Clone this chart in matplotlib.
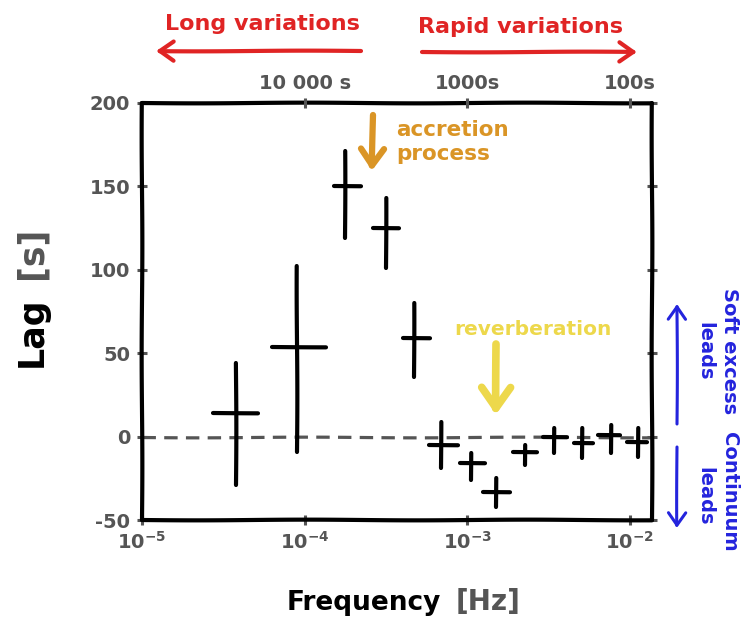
import numpy as np
import matplotlib.pyplot as plt
from matplotlib.patches import FancyArrowPatch

# lag-frequency spectrum
freq = [3.8e-5, 9.0e-5, 1.77e-4, 3.16e-4, 4.7e-4, 6.9e-4, 1.05e-3,
        1.5e-3, 2.26e-3, 3.4e-3, 5.1e-3, 7.6e-3, 1.12e-2]
freq_lo = [2.73e-5, 6.3e-5, 1.51e-4, 2.63e-4, 4.02e-4, 5.8e-4, 9.0e-4,
           1.25e-3, 1.9e-3, 2.92e-3, 4.52e-3, 6.35e-3, 9.6e-3]
freq_hi = [5.16e-5, 1.35e-4, 2.22e-4, 3.8e-4, 5.9e-4, 8.75e-4, 1.28e-3,
           1.83e-3, 2.68e-3, 4.09e-3, 5.92e-3, 8.67e-3, 1.27e-2]
lag = [14, 54, 150, 125, 59, -5, -16, -33, -9, 0, -4, 1, -3]
lag_lo = [-29, -9, 119, 101, 36, -19, -26, -42, -17, -10, -13, -10, -12]
lag_hi = [44, 102, 171, 143, 80, 9, -10, -25, -5, 5, 5, 7, 5]

x_ticks = [1e-5, 1e-4, 1e-3, 1e-2]
x_ticklabels = [r'$\mathbf{10^{-5}}$', r'$\mathbf{10^{-4}}$',
                r'$\mathbf{10^{-3}}$', r'$\mathbf{10^{-2}}$']
top_ticks = [1e-4, 1e-3, 1e-2]
top_ticklabels = ['10 000 s', '1000s', '100s']
y_ticks = [-50, 0, 50, 100, 150, 200]

grey = '#555555'
red = '#E02424'
orange = '#DA9526'
yellow = '#EDD84B'
blue = '#2424DD'

plt.rcParams['path.sketch'] = (0.35, 220, 1)
plt.rcParams['axes.unicode_minus'] = False
plt.rcParams['font.weight'] = 'bold'

W, H = 746, 629
fig = plt.figure(figsize=(W / 100, H / 100), dpi=100)
ax = fig.add_axes([142 / W, 1 - 520 / H, 510 / W, 417 / H])

def px(x, y):
    return (x / W, 1 - y / H)

freq = np.array(freq)
lag = np.array(lag)
xerr = [freq - np.array(freq_lo), np.array(freq_hi) - freq]
yerr = [lag - np.array(lag_lo), np.array(lag_hi) - lag]

ax.axhline(0, color=grey, lw=2.3, ls=(0, (4.2, 2.6)), zorder=1)
eb = ax.errorbar(freq, lag, xerr=xerr, yerr=yerr, fmt='none',
                 ecolor='black', elinewidth=3, capsize=0, zorder=3)
for c in eb[2]:
    c.set_capstyle('round')

ax.set_xscale('log')
ax.set_xlim(1e-5, 10 ** -1.865)
ax.set_ylim(-50, 200)
ax.set_xticks(x_ticks)
ax.set_xticklabels(x_ticklabels)
ax.minorticks_off()
ax.set_yticks(y_ticks)
ax.tick_params(axis='both', direction='inout', length=7, width=2.2,
               color=grey, labelcolor=grey, labelsize=14, right=True)
ax.tick_params(axis='x', pad=4)
ax.tick_params(axis='y', pad=5)
for s in ax.spines.values():
    s.set_linewidth(3)
    s.set_color('black')
    s.set_capstyle('round')

ax2 = ax.twiny()
ax2.set_xscale('log')
ax2.set_xlim(ax.get_xlim())
ax2.set_xticks(top_ticks)
ax2.set_xticklabels(top_ticklabels)
ax2.minorticks_off()
ax2.tick_params(direction='inout', length=7, width=2.2, color=grey,
                labelcolor=grey, labelsize=14, pad=4)
for s in ax2.spines.values():
    s.set_visible(False)

# axis titles
fig.text(*px(42, 367), 'Lag', rotation=90, rotation_mode='anchor',
         ha='left', va='baseline', fontsize=25, color='black')
fig.text(*px(42, 279), '[s]', rotation=90, rotation_mode='anchor',
         ha='left', va='baseline', fontsize=25, color=grey)
fig.text(*px(287, 610), 'Frequency', ha='left', va='baseline',
         fontsize=19, color='black')
fig.text(*px(456, 610), '[Hz]', ha='left', va='baseline',
         fontsize=20, color=grey)

# top: long / rapid variations
fig.text(*px(165, 30), 'Long variations', ha='left', va='baseline',
         fontsize=16, color=red)
fig.text(*px(418, 33), 'Rapid variations', ha='left', va='baseline',
         fontsize=16, color=red)

def arrow(p0, p1, color, lw, ms, style='->, head_length=0.5, head_width=0.35'):
    a = FancyArrowPatch(px(*p0), px(*p1), transform=fig.transFigure,
                        arrowstyle=style, color=color, lw=lw,
                        mutation_scale=ms, capstyle='round',
                        joinstyle='round', shrinkA=0, shrinkB=0)
    fig.add_artist(a)

arrow((361, 51), (156, 51), red, 3, 20)
arrow((422, 52), (637, 52), red, 3, 20)

# annotations inside the plot
fig.text(*px(396, 136), 'accretion', ha='left', va='baseline',
         fontsize=15.5, color=orange)
fig.text(*px(396, 160), 'process', ha='left', va='baseline',
         fontsize=15.5, color=orange)
arrow((373, 115), (372, 171), orange, 4.5, 24)

fig.text(*px(533, 335), 'reverberation', ha='center', va='baseline',
         fontsize=14.5, color=yellow)
arrow((496, 344), (496, 415), yellow, 5.5, 30)

# right side: which band leads
fig.text(*px(724, 351), 'Soft excess', rotation=-90, rotation_mode='anchor',
         ha='center', va='baseline', fontsize=14, color=blue)
fig.text(*px(699, 351), 'leads', rotation=-90, rotation_mode='anchor',
         ha='center', va='baseline', fontsize=14, color=blue)
fig.text(*px(724, 492), 'Continuum', rotation=-90, rotation_mode='anchor',
         ha='center', va='baseline', fontsize=14, color=blue)
fig.text(*px(699, 496), 'leads', rotation=-90, rotation_mode='anchor',
         ha='center', va='baseline', fontsize=14, color=blue)
arrow((677, 424), (677, 304), blue, 2.2, 18)
arrow((677, 447), (677, 528), blue, 2.2, 18)

fig.savefig('out.png', dpi=100)
